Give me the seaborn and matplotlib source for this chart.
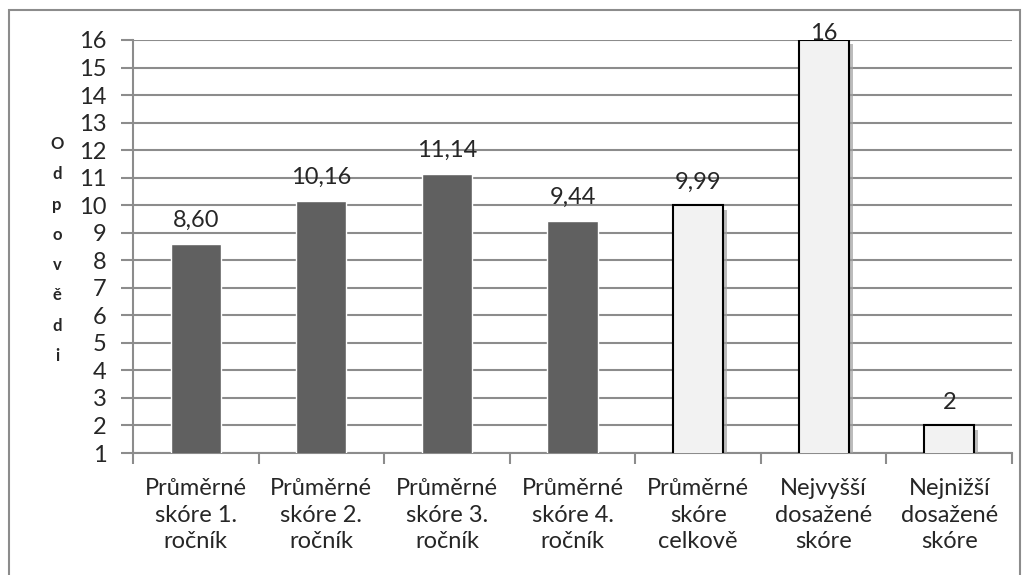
import numpy as np
import pandas as pd
import seaborn as sns
import matplotlib.pyplot as plt
from matplotlib.patches import Rectangle
import matplotlib.patheffects as pe

# data
categories = ["Průměrné\nskóre 1.\nročník", "Průměrné\nskóre 2.\nročník",
              "Průměrné\nskóre 3.\nročník", "Průměrné\nskóre 4.\nročník",
              "Průměrné\nskóre\ncelkově", "Nejvyšší\ndosažené\nskóre",
              "Nejnižší\ndosažené\nskóre"]
values = [8.60, 10.16, 11.14, 9.44, 9.99, 16, 2]
value_labels = ["8,60", "10,16", "11,14", "9,44", "9,99", "16", "2"]
groups = ["rocnik", "rocnik", "rocnik", "rocnik", "celkem", "celkem", "celkem"]
yticks = list(range(1, 17))

df = pd.DataFrame({"cat": categories, "val": values, "grp": groups})

sns.set_style("white")
plt.rcParams["font.family"] = ["Lato", "DejaVu Sans"]

fig = plt.figure(figsize=(10.27, 5.75), dpi=100)
ax = fig.add_axes([133 / 1027, 1 - 453 / 575, (1012 - 133) / 1027, (453 - 40) / 575])

grid_col = "#8c8c8c"
fs = 17
sns.barplot(data=df, x="cat", y="val", hue="grp",
            palette={"rocnik": "#606060", "celkem": "#f2f2f2"},
            width=0.4, dodge=False, legend=False, ax=ax, zorder=3)

for i, p in enumerate(ax.patches):
    if groups[i] == "celkem":
        p.set_edgecolor("black")
        p.set_linewidth(1.5)
        p.set_path_effects([pe.SimplePatchShadow(offset=(3, -3), shadow_rgbFace="#a0a0a0", alpha=0.7),
                            pe.Normal()])

ax.set_ylim(1, 16)
ax.set_xlim(-0.5, len(categories) - 0.5)
ax.set_yticks(yticks)
ax.set_yticklabels([str(t) for t in yticks], fontsize=fs)
ax.yaxis.grid(True, color=grid_col, linewidth=1.5, zorder=0)
ax.set_axisbelow(True)

# category boundary ticks
ax.set_xticks(np.arange(len(categories)))
ax.set_xticklabels(categories, fontsize=fs, linespacing=1.33)
ax.set_xticks(np.arange(-0.5, len(categories)), minor=True)
ax.tick_params(axis="x", which="major", length=0, pad=18)
ax.tick_params(axis="x", which="minor", length=8, color=grid_col, width=1.5, direction="out")
ax.tick_params(axis="y", length=9, color=grid_col, width=1.5, direction="out", pad=10)
ax.xaxis.set_ticks_position("bottom")
ax.yaxis.set_ticks_position("left")

for s in ["top", "right"]:
    ax.spines[s].set_visible(False)
for s in ["left", "bottom"]:
    ax.spines[s].set_color(grid_col)
    ax.spines[s].set_linewidth(1.5)

ax.set_xlabel("")
ax.set_ylabel("")

# value labels
for i, v in enumerate(values):
    if v >= ax.get_ylim()[1]:
        ax.annotate(value_labels[i], (i, v), xytext=(0, -3), textcoords="offset points",
                    ha="center", va="bottom", fontsize=fs, annotation_clip=False, zorder=5)
    else:
        ax.annotate(value_labels[i], (i, v), xytext=(0, 9), textcoords="offset points",
                    ha="center", va="bottom", fontsize=fs, zorder=5)

# vertical y label
fig.text(57 / 1027, 1 - 250 / 575, "\n".join("Odpovědi"), ha="center", va="center",
         fontsize=12, fontweight="bold", linespacing=2.1)

# outer border
fig.patches.append(Rectangle((9 / 1027, -0.1), (1020 - 9) / 1027, 1.1 - 10 / 575,
                             transform=fig.transFigure, fill=False,
                             edgecolor=grid_col, linewidth=1.5))

fig.savefig("out.png", dpi=100)
